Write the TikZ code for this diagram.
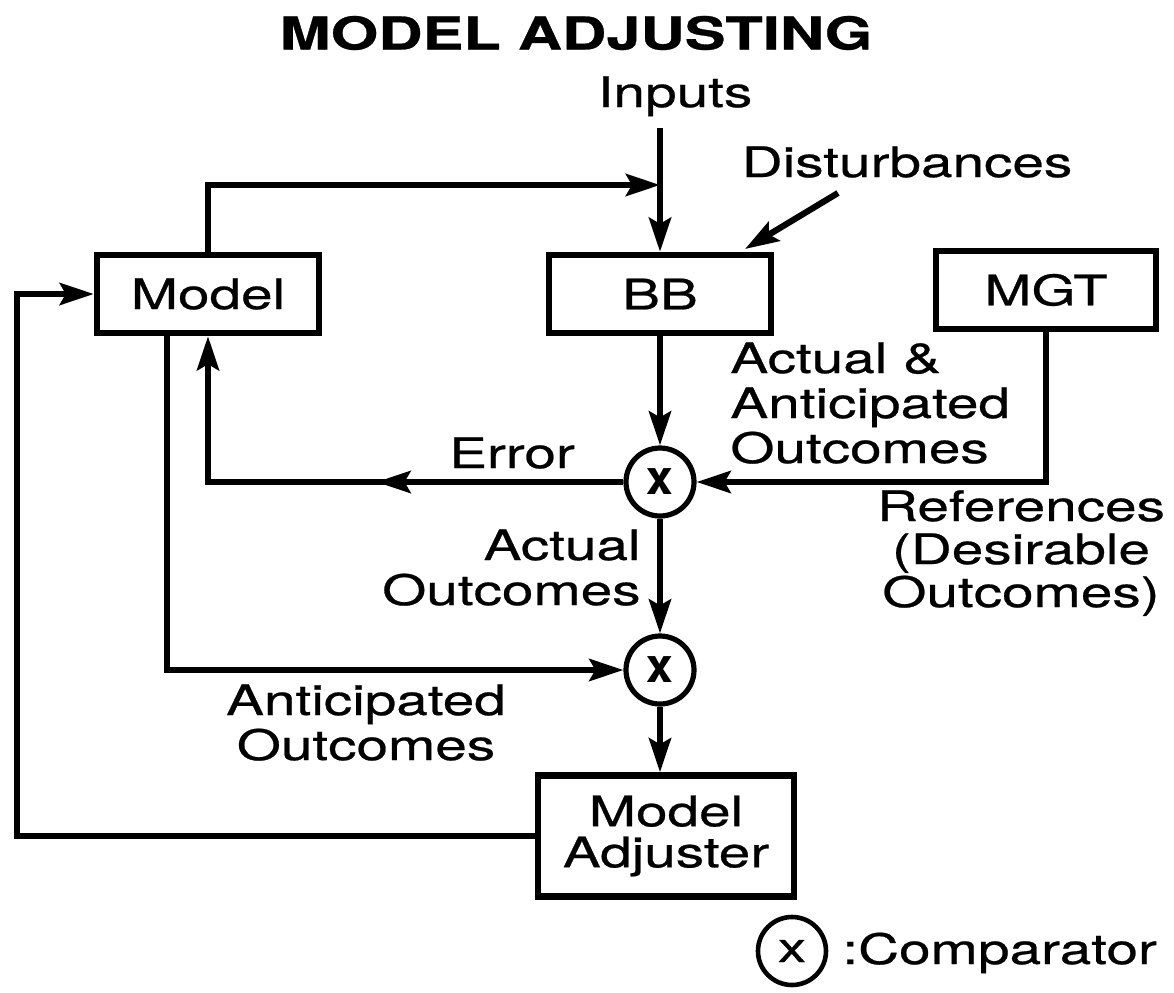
\documentclass[tikz,border=0pt]{standalone}
\usepackage{fontspec}
\setmainfont{TeX Gyre Heros}[FakeStretch=1.35,FakeBold=0.6]
\newfontfamily\markfont{TeX Gyre Heros}
\usetikzlibrary{arrows.meta,decorations.markings}

\begin{document}
\begin{tikzpicture}[x=0.5pt,y=-0.5pt,
  lbl/.style={font=\fontsize{21}{22.5}\selectfont, inner sep=0pt},
  blk/.style={draw, line width=3.2pt, minimum width=111pt, minimum height=39pt,
              inner sep=0pt, font=\fontsize{21}{22.5}\selectfont},
  cmp/.style={draw, circle, line width=2.6pt, minimum size=34pt, inner sep=0pt,
              font=\markfont\bfseries\fontsize{24}{24}\selectfont},
  conn/.style={line width=3.1pt},
  tip/.style={-{Stealth[length=17pt,width=11pt,inset=3pt]}},
  midtip/.style={postaction={decorate}, decoration={markings,
      mark=at position #1 with {\arrow{Stealth[length=17pt,width=11pt,inset=3pt]}}}}
]
\useasboundingbox (0,0) rectangle (1174,992);

% heading
\node[font=\bfseries\fontsize{22.7}{24}\selectfont, inner sep=0pt] (title) at (576,33) {MODEL ADJUSTING};

% blocks
\node[blk] (model) at (208,294) {Model};
\node[blk] (bb) at (660,294) {BB};
\node[blk, minimum width=110pt] (mgt) at (1046,290) {MGT};
\node[blk, align=center, minimum width=128pt, minimum height=60.5pt,
      font=\fontsize{21}{20.5}\selectfont] (adj) at (666,836) {Model\\Adjuster};

% comparators
\node[cmp] (c1) at (660,482) {x};
\node[cmp] (c2) at (660,670) {x};

% signal labels (multi-line ones are placed by their last baseline)
\node[lbl, anchor=base] (inputs) at (675,107) {Inputs};
\node[lbl, anchor=base] (dist) at (907,177) {Disturbances};
\node[lbl, align=left, anchor=base west] (aao) at (730,463) {Actual \&\\Anticipated\\Outcomes};
\node[lbl, anchor=base] (err) at (512,468) {Error};
\node[lbl, align=center, anchor=base, font=\fontsize{21}{21.5}\selectfont] (refs) at (1021,607)
     {References\\(Desirable\\Outcomes)};
\node[lbl, align=right, anchor=base east] (ao) at (641,605) {Actual\\Outcomes};
\node[lbl, align=center, anchor=base] (antic) at (366,760) {Anticipated\\Outcomes};

% legend
\node[cmp, line width=2.3pt, font=\fontsize{21}{22.5}\selectfont] (legc) at (792,951) {x};
\node[lbl, anchor=base west] (legt) at (842,964) {:Comparator};

% free ends of connectors
\coordinate (inTop) at (660,128);
\coordinate (join) at (660,185);
\coordinate (distFrom) at (838,193);
\coordinate (distTo) at (745,249);
\coordinate (farLeft) at (17,600);

% connectors
\draw[conn,tip] (inTop) -- (bb.north);
\draw[conn,tip] (model.north) |- (join);
\draw[conn,tip] (distFrom) -- (distTo);
\draw[conn,tip] (bb.south) -- (c1.north);
\draw[conn,tip] (mgt.south) |- (c1.east);
\draw[conn,tip,midtip=0.44] (c1.west) -| (model.south);
\draw[conn,tip] ([xshift=-20.5pt]model.south) |- (c2.west);
\draw[conn,tip] (c1.south) -- (c2.north);
\draw[conn,tip] (c2.south) -- (c2.south |- adj.north);
\draw[conn,tip] (adj.west) -| (farLeft) |- (model.west);
\end{tikzpicture}
\end{document}
